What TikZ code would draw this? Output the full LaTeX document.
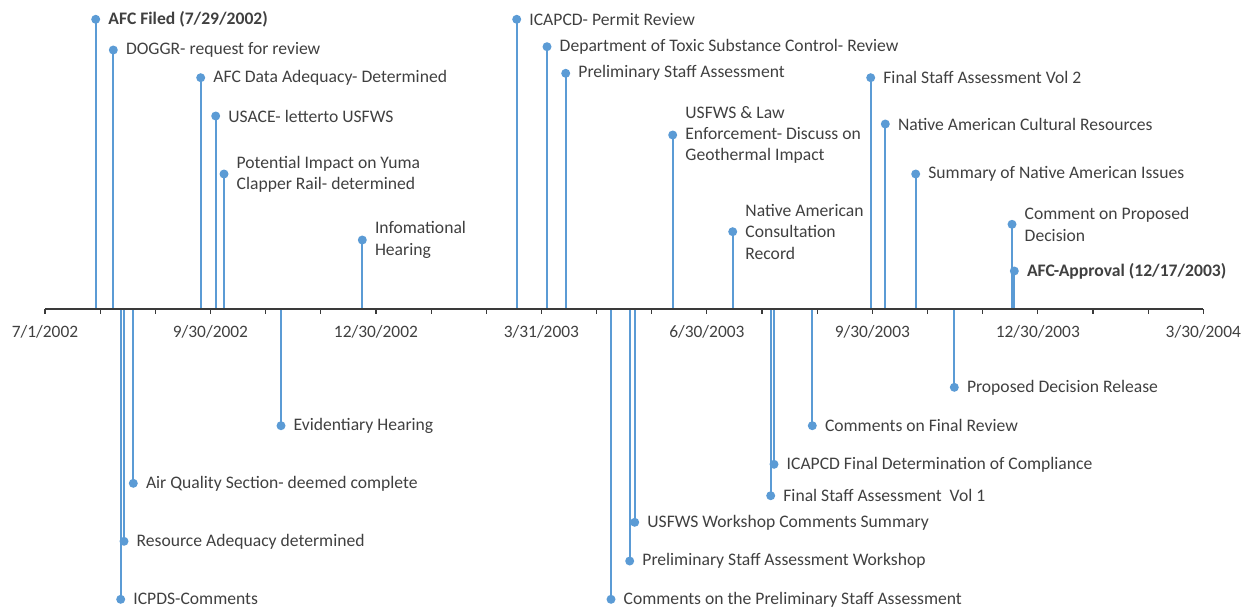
\documentclass[tikz,border=0pt]{standalone}
\usepackage{fontspec}
\setmainfont{Carlito}
\definecolor{evblue}{HTML}{5B9BD5}
\definecolor{txt}{HTML}{404040}
\definecolor{axisc}{HTML}{3A3A3A}
\newcommand\evt[5]{%
  \coordinate (#1a) at (#2,309);
  \node[dotmark] (#1d) at (#2,#3) {};
  \draw[stemline] (#1a) -- (#1d.center);
  \node[#5] (#1l) at (#2+12.5,#3) {#4};
}
\begin{document}
\begin{tikzpicture}[x=1pt,y=-1pt,
  stemline/.style={draw=evblue,line width=2pt},
  dotmark/.style={circle,fill=evblue,inner sep=0pt,minimum size=9pt},
  lbl/.style={anchor=west,text=txt,inner sep=0pt,align=left,font=\fontsize{17.6}{21.3}\selectfont},
  blbl/.style={lbl,font=\fontsize{17.6}{21.3}\selectfont\bfseries},
  datel/.style={text=txt,inner sep=0pt,font=\fontsize{17.4}{21.3}\selectfont}]
\useasboundingbox (0,0) rectangle (1248,606);
% events above
\evt{e1}{95.7}{19.3}{AFC Filed (7/29/2002)}{blbl}
\evt{e2}{113.3}{50}{DOGGR- request for review}{lbl}
\evt{e3}{200.7}{77.7}{AFC Data Adequacy- Determined}{lbl}
\evt{e4}{215.7}{116}{USACE- letterto USFWS}{lbl}
\evt{e5}{224}{174}{Potential Impact on Yuma\\Clapper Rail- determined}{lbl}
\evt{e6}{362.3}{240}{Infomational\\Hearing}{lbl}
\evt{e7}{516.7}{19.3}{ICAPCD- Permit Review}{lbl}
\evt{e8}{547}{46.7}{Department of Toxic Substance Control- Review}{lbl}
\evt{e9}{565.7}{73.3}{Preliminary Staff Assessment}{lbl}
\evt{e10}{672.7}{135}{USFWS \& Law\\Enforcement- Discuss on\\Geothermal Impact}{lbl}
\evt{e11}{732.7}{231.7}{Native American\\Consultation\\Record}{lbl}
\evt{e12}{870.7}{77.7}{Final Staff Assessment Vol 2}{lbl}
\evt{e13}{885.3}{124}{Native American Cultural Resources}{lbl}
\evt{e14}{915.7}{174}{Summary of Native American Issues}{lbl}
\evt{e15}{1012}{224.3}{Comment on Proposed\\Decision}{lbl}
\evt{e16}{1014.3}{271}{AFC-Approval (12/17/2003)}{blbl}
% events below
\evt{e17}{120.7}{599.3}{ICPDS-Comments}{lbl}
\evt{e18}{124}{541.3}{Resource Adequacy determined}{lbl}
\evt{e19}{133.3}{483.3}{Air Quality Section- deemed complete}{lbl}
\evt{e20}{281}{425.7}{Evidentiary Hearing}{lbl}
\evt{e21}{611}{599.3}{Comments on the Preliminary Staff Assessment}{lbl}
\evt{e22}{629.7}{561}{Preliminary Staff Assessment Workshop}{lbl}
\evt{e23}{634.7}{522.3}{USFWS Workshop Comments Summary}{lbl}
\evt{e24}{770.7}{495.7}{Final Staff Assessment\ \ Vol 1}{lbl}
\evt{e25}{774}{464.3}{ICAPCD Final Determination of Compliance}{lbl}
\evt{e26}{812.3}{425.7}{Comments on Final Review}{lbl}
\evt{e27}{954.3}{387.3}{Proposed Decision Release}{lbl}
% axis
\coordinate (ax0) at (45,309);
\coordinate (ax1) at (1203.3,309);
\foreach \i in {0,...,21} {
  \draw[axisc,line width=1.2pt] (45+\i*55.157,309) -- ++(0,5);
}
\draw[axisc,line width=1.8pt] (ax0) -- (ax1);
% date labels
\foreach \i/\d in {0/7\slash1\slash2002,1/9\slash30\slash2002,2/12\slash30\slash2002,3/3\slash31\slash2003,4/6\slash30\slash2003,5/9\slash30\slash2003,6/12\slash30\slash2003,7/3\slash30\slash2004} {
  \node[datel] (dl\i) at (45+\i*165.47,332) {\d};
}
\end{tikzpicture}
\end{document}
